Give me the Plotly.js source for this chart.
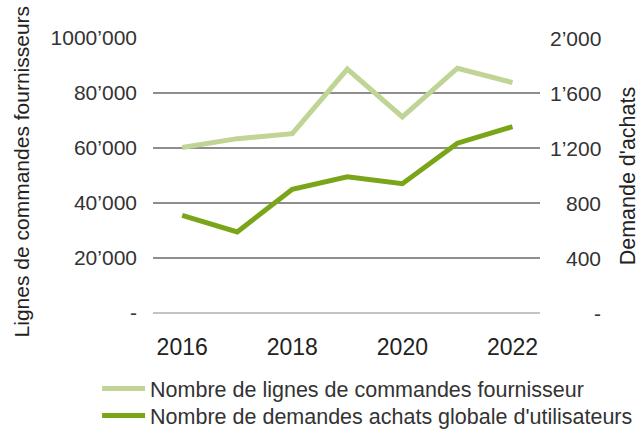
<!DOCTYPE html>
<html>
<head>
<meta charset="utf-8">
<script src="https://cdn.plot.ly/plotly-3.0.1.min.js"></script>
<style>
  html, body { margin: 0; padding: 0; background: #fff; }
  #chart { width: 643px; height: 429px; }
</style>
</head>
<body>
<div id="chart"></div>
<script>
// Years and series
const years = [2016, 2017, 2018, 2019, 2020, 2021, 2022];
const lignesCommandes = [60200, 63400, 65200, 88700, 71300, 89000, 83800];
const demandesAchats = [710, 590, 900, 990, 940, 1235, 1355];

// Axis ticks
const xTicks = [2016, 2018, 2020, 2022];
const leftTickVals = [0, 20000, 40000, 60000, 80000, 100000];
const leftTickText = ["-", "20’000", "40’000", "60’000", "80’000", "1000’000"];
const rightTickVals = [0, 400, 800, 1200, 1600, 2000];
const rightTickText = ["-", "400", "800", "1’200", "1’600", "2’000"];

const leftTitle = "Lignes de commandes fournisseurs";
const rightTitle = "Demande d'achats";

const lightGreen = "#bfd495";
const darkGreen = "#7aa518";
const font = "Liberation Sans, Arial, sans-serif";

const trace1 = {
  x: years,
  y: lignesCommandes,
  type: "scatter",
  mode: "lines",
  line: { color: lightGreen, width: 5 },
  name: "Nombre de lignes de commandes fournisseur",
  yaxis: "y",
  legend: "legend",
};

const trace2 = {
  x: years,
  y: demandesAchats,
  type: "scatter",
  mode: "lines",
  line: { color: darkGreen, width: 5 },
  name: "Nombre de demandes achats globale d'utilisateurs",
  yaxis: "y2",
  legend: "legend2",
};

// right axis labels are right-aligned in the reference, so draw them as annotations
const rightLabels = rightTickVals.map((v, i) => ({
  xref: "paper",
  yref: "y2",
  x: 1.163,
  y: v,
  xanchor: "right",
  yanchor: "middle",
  text: rightTickText[i],
  showarrow: false,
  font: { family: font, size: 21, color: "#333" },
}));

// axis titles as rotated annotations
const titles = [
  {
    xref: "paper", yref: "paper", x: -0.341, y: 0.515,
    xanchor: "center", yanchor: "middle", textangle: -90,
    text: leftTitle, showarrow: false,
    font: { family: font, size: 21, color: "#222" },
  },
  {
    xref: "paper", yref: "paper", x: 1.227, y: 0.5,
    xanchor: "center", yanchor: "middle", textangle: -90,
    text: rightTitle, showarrow: false,
    font: { family: font, size: 21.5, color: "#222" },
  },
];

const legendStyle = {
  xref: "container",
  yref: "container",
  x: 0.151,
  xanchor: "left",
  yanchor: "top",
  orientation: "v",
  itemwidth: 43,
  bgcolor: "rgba(0,0,0,0)",
  font: { family: font, size: 21.5, color: "#333" },
};

const layout = {
  width: 643,
  height: 429,
  margin: { l: 153, r: 103, t: 38, b: 116, autoexpand: false },
  paper_bgcolor: "#fff",
  plot_bgcolor: "#fff",
  font: { family: font, color: "#333" },
  showlegend: true,
  legend: Object.assign({}, legendStyle, { y: 0.142 }),
  legend2: Object.assign({}, legendStyle, { y: 0.079 }),
  xaxis: {
    range: [2015.47, 2022.5],
    tickvals: xTicks,
    ticktext: xTicks.map(String),
    showgrid: false,
    zeroline: false,
    showline: false,
    ticks: "",
    ticklabelstandoff: 18,
    tickfont: { family: font, size: 23, color: "#222" },
  },
  yaxis: {
    range: [0, 100000],
    tickvals: leftTickVals,
    ticktext: leftTickText,
    showgrid: true,
    gridcolor: "#8e8e8e",
    gridwidth: 1.5,
    zeroline: true,
    zerolinecolor: "#c4c4c4",
    zerolinewidth: 2,
    ticks: "",
    ticklabelstandoff: 15,
    tickfont: { family: font, size: 21, color: "#333" },
  },
  yaxis2: {
    range: [0, 2000],
    overlaying: "y",
    side: "right",
    showgrid: false,
    zeroline: false,
    showticklabels: false,
    tickvals: rightTickVals,
    ticks: "",
  },
  annotations: rightLabels.concat(titles),
};

Plotly.newPlot("chart", [trace1, trace2], layout, { displayModeBar: false, staticPlot: true });
</script>
</body>
</html>
